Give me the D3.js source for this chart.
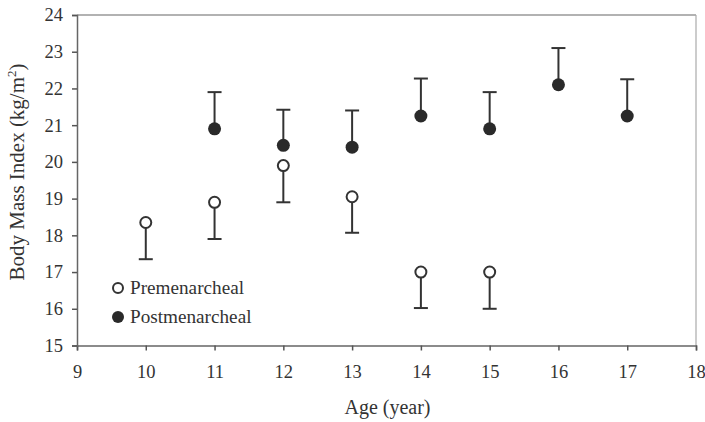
<!DOCTYPE html>
<html><head><meta charset="utf-8">
<script src="https://cdn.jsdelivr.net/npm/d3@7"></script>
<style>body{margin:0;background:#fff}svg{display:block}text{font-family:"Liberation Serif","Times New Roman",serif;fill:#333}</style>
</head><body>
<svg id="c" width="705" height="422"></svg>
<script>
const preAges = [10, 11, 12, 13, 14, 15];
const preMean = [18.35, 18.9, 19.9, 19.05, 17.0, 17.0];
const preLow  = [17.35, 17.9, 18.9, 18.07, 16.02, 16.0];
const postAges = [11, 12, 13, 14, 15, 16, 17];
const postMean = [20.9, 20.45, 20.4, 21.25, 20.9, 22.1, 21.25];
const postHigh = [21.9, 21.42, 21.4, 22.27, 21.9, 23.1, 22.25];
const xTicks = [9,10,11,12,13,14,15,16,17,18];
const yTicks = [15,16,17,18,19,20,21,22,23,24];

const svg = d3.select("#c");
const L=77, R=696, T=15, B=345.5;
const x = d3.scaleLinear().domain([9,18]).range([L,R]);
const y = d3.scaleLinear().domain([15,24]).range([B,T]);
const ink = "#333";

svg.append("line").attr("x1",L).attr("x2",R).attr("y1",T).attr("y2",T).attr("stroke","#999").attr("stroke-width",1.5);
svg.append("line").attr("x1",R).attr("x2",R).attr("y1",T).attr("y2",B).attr("stroke","#aaa").attr("stroke-width",1.2);

const xa = svg.append("g").attr("transform",`translate(0,${B})`)
  .call(d3.axisBottom(x).tickValues(xTicks).tickFormat(d3.format("d")).tickSize(5).tickPadding(14));
const ya = svg.append("g").attr("transform",`translate(${L},0)`)
  .call(d3.axisLeft(y).tickValues(yTicks).tickFormat(d3.format("d")).tickSize(5).tickPadding(9));
[xa,ya].forEach(g=>{
  g.attr("font-family",null);
  g.select(".domain").attr("stroke","#666").attr("stroke-width",1.5);
  g.selectAll(".tick line").attr("stroke","#555").attr("stroke-width",1.5);
  g.selectAll(".tick text").attr("font-size",18.5).attr("fill",ink);
});

const pre = preAges.map((a,i)=>({a,m:preMean[i],e:preLow[i]}));
const post = postAges.map((a,i)=>({a,m:postMean[i],e:postHigh[i]}));
const cap = 7;
function bars(data){
  const g = svg.append("g");
  g.selectAll("line.v").data(data).join("line").attr("x1",d=>x(d.a)).attr("x2",d=>x(d.a))
    .attr("y1",d=>y(d.m)).attr("y2",d=>y(d.e)).attr("stroke",ink).attr("stroke-width",2);
  g.selectAll("line.c").data(data).join("line").attr("x1",d=>x(d.a)-cap).attr("x2",d=>x(d.a)+cap)
    .attr("y1",d=>y(d.e)).attr("y2",d=>y(d.e)).attr("stroke",ink).attr("stroke-width",2);
}
bars(pre); bars(post);
svg.append("g").selectAll("circle").data(pre).join("circle")
  .attr("cx",d=>x(d.a)).attr("cy",d=>y(d.m)).attr("r",5.5).attr("fill","#fff").attr("stroke",ink).attr("stroke-width",2);
svg.append("g").selectAll("circle").data(post).join("circle")
  .attr("cx",d=>x(d.a)).attr("cy",d=>y(d.m)).attr("r",6.5).attr("fill","#2a2a2a");

svg.append("circle").attr("cx",118).attr("cy",288).attr("r",5).attr("fill","#fff").attr("stroke",ink).attr("stroke-width",2);
svg.append("text").attr("x",130).attr("y",294).attr("font-size",19.2).text("Premenarcheal");
svg.append("circle").attr("cx",118).attr("cy",317).attr("r",6).attr("fill","#2a2a2a");
svg.append("text").attr("x",130).attr("y",323).attr("font-size",19.2).text("Postmenarcheal");

svg.append("text").attr("x",(L+R)/2+1).attr("y",414).attr("text-anchor","middle").attr("font-size",20).text("Age (year)");
const yt = svg.append("text").attr("transform",`translate(24,172) rotate(-90)`).attr("text-anchor","middle").attr("font-size",21);
yt.append("tspan").text("Body Mass Index (kg/m");
yt.append("tspan").attr("dy",-8).attr("font-size",13).text("2");
yt.append("tspan").attr("dy",8).text(")");
</script>
</body></html>
